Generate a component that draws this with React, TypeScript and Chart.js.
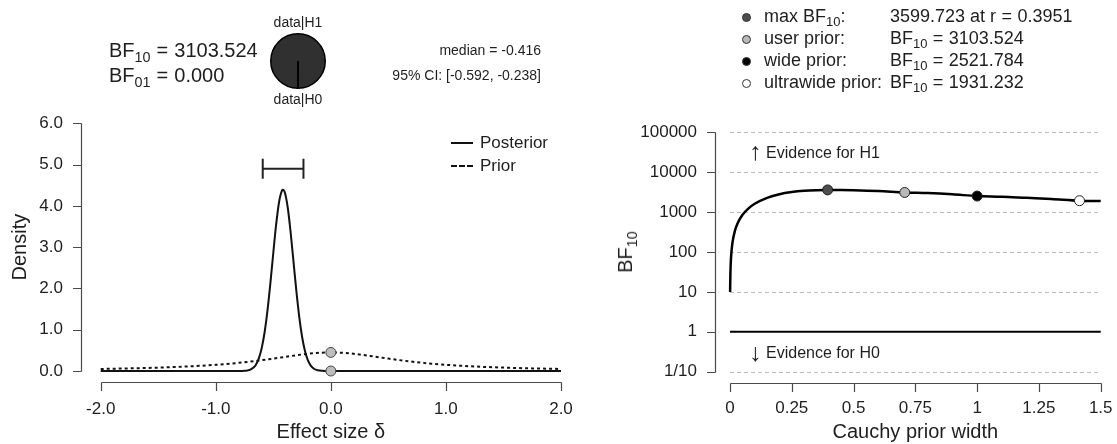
import React, { useEffect, useRef } from "react";
import { Chart, registerables } from "chart.js";

Chart.register(...registerables);

const FAMILY = "'Liberation Sans', Arial, Helvetica, sans-serif";
const TEXT = "#1e1e1e";
const AXIS = "#4a4a4a";
const W = 1117;

// ---------- Left panel: prior and posterior ----------
const effectTicks = [-2, -1, 0, 1, 2];
const densityTicks = [0, 1, 2, 3, 4, 5, 6];

const posteriorX = [-2, -1.5, -1, -0.9, -0.85, -0.8, -0.775, -0.75, -0.725, -0.7, -0.675, -0.65, -0.625, -0.6, -0.575, -0.55, -0.525, -0.5, -0.475, -0.45, -0.425, -0.416, -0.4, -0.375, -0.35, -0.325, -0.3, -0.275, -0.25, -0.225, -0.2, -0.175, -0.15, -0.125, -0.1, -0.075, -0.05, -0.025, 0, 0.5, 1, 1.5, 2];
const posteriorY = [0, 0, 0, 0, 0, 0.001, 0.002, 0.005, 0.014, 0.033, 0.076, 0.16, 0.312, 0.566, 0.951, 1.481, 2.14, 2.865, 3.556, 4.094, 4.369, 4.39, 4.322, 3.966, 3.373, 2.66, 1.945, 1.319, 0.829, 0.483, 0.261, 0.131, 0.061, 0.026, 0.01, 0.004, 0.001, 0, 0, 0, 0, 0, 0];

const priorX = [-2, -1.75, -1.5, -1.25, -1, -0.875, -0.75, -0.625, -0.5, -0.375, -0.25, -0.125, 0, 0.125, 0.25, 0.375, 0.5, 0.625, 0.75, 0.875, 1, 1.25, 1.5, 1.75, 2];
const priorY = [0.05, 0.063, 0.082, 0.109, 0.15, 0.178, 0.212, 0.253, 0.3, 0.351, 0.4, 0.437, 0.45, 0.437, 0.4, 0.351, 0.3, 0.253, 0.212, 0.178, 0.15, 0.109, 0.082, 0.063, 0.05];

const nullPointX = [0, 0];
const nullPointY = [0.45, 0.0];

const ciX = [-0.592, -0.238];
const ciY = [4.9, 4.9];

// ---------- Pie ----------
const pieLabels = ["data|H1", "data|H0"];
const pieValues = [3103.524, 1];

// ---------- Right panel: robustness check ----------
const widthTicks = [0, 0.25, 0.5, 0.75, 1, 1.25, 1.5];
const bfTicks = [0.1, 1, 10, 100, 1000, 10000, 100000];
const bfTickLabels = ["1/10", "1", "10", "100", "1000", "10000", "100000"];

const bfR = [0.0005, 0.001, 0.0025, 0.005, 0.01, 0.02, 0.03, 0.05, 0.075, 0.1, 0.15, 0.2, 0.25, 0.3, 0.35, 0.3951, 0.45, 0.5, 0.6, 0.7071, 0.8, 0.9, 1.0, 1.1, 1.2, 1.3, 1.4142, 1.5];
const bfVal = [10, 18, 44, 86, 171, 341, 511, 843, 1243, 1617, 2271, 2807, 3173, 3410, 3541, 3599.723, 3583, 3540, 3380, 3103.524, 2990, 2785, 2521.784, 2430, 2275, 2135, 1931.232, 1898];

const refLineX = [0, 1.5];
const refLineY = [1, 1];

const markerR = [0.3951, 0.7071, 1, 1.4142];
const markerBF = [3599.723, 3103.524, 2521.784, 1931.232];
const markerColors = ["#4d4d4d", "#b8b8b8", "#000000", "#ffffff"];

function pts(xs: number[], ys: number[]) {
  return xs.map((x, i) => ({ x, y: ys[i] }));
}

function offsetAxes(yGap: number, xGap: number, len: number) {
  return {
    id: "offsetAxes",
    afterDraw(chart: any) {
      const { ctx, chartArea } = chart;
      const xs = chart.scales.x;
      const ys = chart.scales.y;
      const ax = Math.round(chartArea.left - yGap) + 0.5;
      const ay = Math.round(chartArea.bottom + xGap) + 0.5;
      const yp = ys.ticks.map((t: any) => Math.round(ys.getPixelForValue(t.value)) + 0.5);
      const xp = xs.ticks.map((t: any) => Math.round(xs.getPixelForValue(t.value)) + 0.5);
      ctx.save();
      ctx.strokeStyle = AXIS;
      ctx.lineWidth = 1.2;
      ctx.beginPath();
      ctx.moveTo(ax, Math.min(...yp));
      ctx.lineTo(ax, Math.max(...yp));
      yp.forEach((p: number) => {
        ctx.moveTo(ax, p);
        ctx.lineTo(ax - len, p);
      });
      ctx.moveTo(Math.min(...xp), ay);
      ctx.lineTo(Math.max(...xp), ay);
      xp.forEach((p: number) => {
        ctx.moveTo(p, ay);
        ctx.lineTo(p, ay + len);
      });
      ctx.stroke();
      ctx.restore();
    },
  };
}

const dashedGrid = {
  id: "dashedGrid",
  beforeDatasetsDraw(chart: any) {
    const { ctx, chartArea } = chart;
    const ys = chart.scales.y;
    ctx.save();
    ctx.strokeStyle = "#bcbcbc";
    ctx.lineWidth = 1;
    ctx.setLineDash([4, 3]);
    bfTicks
      .filter((v) => v !== 1)
      .forEach((v) => {
        const p = Math.round(ys.getPixelForValue(v)) + 0.5;
        ctx.beginPath();
        ctx.moveTo(chartArea.left, p);
        ctx.lineTo(chartArea.right, p);
        ctx.stroke();
      });
    ctx.restore();
  },
};

const tickFont = { family: FAMILY, size: 17 };
const titleFont = { family: FAMILY, size: 20 };

const fitX = (h: number) => (s: any) => {
  s.height = h;
  s.paddingLeft = 0;
  s.paddingRight = 0;
  s.paddingTop = 0;
  s.paddingBottom = 0;
};
const fitY = (w: number) => (s: any) => {
  s.width = w;
  s.paddingLeft = 0;
  s.paddingRight = 0;
  s.paddingTop = 0;
  s.paddingBottom = 0;
};

function Txt(props: { x: number; y: number; size: number; align?: "left" | "right" | "center"; children: any }) {
  const { x, y, size, align = "left", children } = props;
  const style: React.CSSProperties = {
    position: "absolute",
    top: y - size * 0.6,
    fontSize: size,
    lineHeight: `${size * 1.2}px`,
    whiteSpace: "nowrap",
    color: TEXT,
  };
  if (align === "left") style.left = x;
  else if (align === "right") style.right = W - x;
  else {
    style.left = x;
    style.transform = "translateX(-50%)";
  }
  return <div style={style}>{children}</div>;
}

const Sub = ({ c }: { c: string }) => (
  <span style={{ fontSize: "0.72em", position: "relative", top: "0.32em" }}>{c}</span>
);

// plotmath-style equals sign with slightly wider spacing
const Eq = () => <span style={{ margin: "0 0.3em" }}>=</span>;

function Dot({ x, y, fill }: { x: number; y: number; fill: string }) {
  return (
    <div
      style={{
        position: "absolute",
        left: x - 4.5,
        top: y - 4.5,
        width: 7,
        height: 7,
        borderRadius: "50%",
        background: fill,
        border: "1px solid #333",
      }}
    />
  );
}

export default function App() {
  const leftRef = useRef<HTMLCanvasElement>(null);
  const rightRef = useRef<HTMLCanvasElement>(null);
  const pieRef = useRef<HTMLCanvasElement>(null);

  useEffect(() => {
    const left = new Chart(leftRef.current!, {
      type: "line",
      data: {
        datasets: [
          {
            data: pts(nullPointX, nullPointY),
            showLine: false,
            pointRadius: 5,
            pointBackgroundColor: "#bdbdbd",
            pointBorderColor: "#444",
            pointBorderWidth: 1,
            clip: false,
          } as any,
          {
            data: pts(ciX, ciY),
            borderColor: "#222",
            borderWidth: 2,
            pointStyle: "line",
            rotation: 90,
            pointRadius: 10,
            pointBorderColor: "#222",
            pointBorderWidth: 2,
            clip: false,
          },
          {
            data: pts(posteriorX, posteriorY),
            borderColor: "#111",
            borderWidth: 2,
            pointRadius: 0,
            cubicInterpolationMode: "monotone",
            clip: false,
          },
          {
            data: pts(priorX, priorY),
            borderColor: "#111",
            borderWidth: 2,
            borderDash: [3, 3],
            pointRadius: 0,
            cubicInterpolationMode: "monotone",
            clip: false,
          },
        ],
      },
      options: {
        responsive: false,
        animation: false,
        events: [],
        layout: { padding: { left: 0, top: 123.3, right: 19, bottom: 0 } },
        plugins: { legend: { display: false }, tooltip: { enabled: false } },
        scales: {
          x: {
            type: "linear",
            min: -2,
            max: 2,
            afterBuildTicks: (s: any) => {
              s.ticks = effectTicks.map((v) => ({ value: v }));
            },
            afterFit: fitX(73),
            ticks: { callback: (v: any) => Number(v).toFixed(1), padding: 28, font: tickFont, color: TEXT, maxRotation: 0 },
            grid: { display: false, drawTicks: false },
            border: { display: false },
            title: { display: true, text: "Effect size δ", font: titleFont, color: TEXT, padding: 0 },
          },
          y: {
            type: "linear",
            min: 0,
            max: 6,
            afterBuildTicks: (s: any) => {
              s.ticks = densityTicks.map((v) => ({ value: v }));
            },
            afterFit: fitY(100.7),
            ticks: { callback: (v: any) => Number(v).toFixed(1), padding: 37.7, font: tickFont, color: TEXT },
            grid: { display: false, drawTicks: false },
            border: { display: false },
            title: { display: true, text: "Density", font: titleFont, color: TEXT, padding: { top: 8, bottom: 0 } },
          },
        },
      },
      plugins: [offsetAxes(19.7, 11.3, 8.5)],
    });

    const right = new Chart(rightRef.current!, {
      type: "line",
      data: {
        datasets: [
          {
            data: pts(markerR, markerBF),
            showLine: false,
            pointRadius: 5,
            pointBackgroundColor: markerColors,
            pointBorderColor: "#222",
            pointBorderWidth: 1,
            clip: false,
          } as any,
          {
            data: pts(bfR, bfVal),
            borderColor: "#000",
            borderWidth: 2.5,
            pointRadius: 0,
            cubicInterpolationMode: "monotone",
            clip: false,
          },
          {
            data: pts(refLineX, refLineY),
            borderColor: "#000",
            borderWidth: 2,
            pointRadius: 0,
            clip: false,
          },
        ],
      },
      options: {
        responsive: false,
        animation: false,
        events: [],
        layout: { padding: { left: 0, top: 132.3, right: 16.3, bottom: 0 } },
        plugins: { legend: { display: false }, tooltip: { enabled: false } },
        scales: {
          x: {
            type: "linear",
            min: 0,
            max: 1.5,
            afterBuildTicks: (s: any) => {
              s.ticks = widthTicks.map((v) => ({ value: v }));
            },
            afterFit: fitX(72.3),
            ticks: { callback: (v: any) => String(v), padding: 26.7, font: tickFont, color: TEXT, maxRotation: 0 },
            grid: { display: false, drawTicks: false },
            border: { display: false },
            title: { display: true, text: "Cauchy prior width", font: titleFont, color: TEXT, padding: 0 },
          },
          y: {
            type: "logarithmic",
            min: 0.1,
            max: 100000,
            afterBuildTicks: (s: any) => {
              s.ticks = bfTicks.map((v) => ({ value: v }));
            },
            afterFit: fitY(150),
            ticks: {
              callback: (v: any) => bfTickLabels[bfTicks.indexOf(Number(v))] ?? "",
              padding: 33,
              font: tickFont,
              color: TEXT,
            },
            grid: { display: false, drawTicks: false },
            border: { display: false },
          },
        },
      },
      plugins: [dashedGrid, offsetAxes(15, 11, 8.5)],
    });

    const pie = new Chart(pieRef.current!, {
      type: "pie",
      data: {
        labels: pieLabels,
        datasets: [
          {
            data: pieValues,
            backgroundColor: ["#303030", "#ffffff"],
            borderColor: "#000",
            borderWidth: 1.5,
          },
        ],
      },
      options: {
        responsive: false,
        animation: false,
        events: [],
        rotation: 180,
        layout: { padding: 2 },
        plugins: { legend: { display: false }, tooltip: { enabled: false } },
      },
    });

    return () => {
      left.destroy();
      right.destroy();
      pie.destroy();
    };
  }, []);

  return (
    <div style={{ position: "absolute", left: 0, top: 0, width: W, height: 444, fontFamily: FAMILY, background: "#fff", overflow: "hidden" }}>
      <canvas ref={leftRef} width={580} height={444} style={{ position: "absolute", left: 0, top: 0 }} />
      <canvas ref={rightRef} width={537} height={444} style={{ position: "absolute", left: 580, top: 0 }} />
      <canvas ref={pieRef} width={60} height={60} style={{ position: "absolute", left: 268, top: 31 }} />

      {/* Left header */}
      <Txt x={109} y={50} size={20}>
        BF<Sub c="10" />
        <Eq />
        3103.524
      </Txt>
      <Txt x={109} y={75} size={20}>
        BF<Sub c="01" />
        <Eq />
        0.000
      </Txt>
      <Txt x={298} y={22} size={14} align="center">
        data|H1
      </Txt>
      <Txt x={298} y={99} size={14} align="center">
        data|H0
      </Txt>
      <Txt x={541} y={50} size={14} align="right">
        median = -0.416
      </Txt>
      <Txt x={541} y={75} size={14} align="right">
        95% CI: [-0.592, -0.238]
      </Txt>

      {/* Left legend */}
      <div style={{ position: "absolute", left: 451, top: 142, width: 22, borderTop: "2px solid #111" }} />
      <div style={{ position: "absolute", left: 451, top: 165, width: 22, borderTop: "2px dashed #111" }} />
      <Txt x={480} y={143} size={17}>
        Posterior
      </Txt>
      <Txt x={480} y={166} size={17}>
        Prior
      </Txt>

      {/* Right legend */}
      <Dot x={746} y={17} fill="#4d4d4d" />
      <Dot x={746} y={39} fill="#b8b8b8" />
      <Dot x={746} y={61} fill="#000000" />
      <Dot x={746} y={83} fill="#ffffff" />
      <Txt x={764} y={17} size={18}>
        max BF<Sub c="10" />:
      </Txt>
      <Txt x={764} y={39} size={18}>
        user prior:
      </Txt>
      <Txt x={764} y={61} size={18}>
        wide prior:
      </Txt>
      <Txt x={764} y={83} size={18}>
        ultrawide prior:
      </Txt>
      <Txt x={890} y={17} size={18}>
        3599.723 at r<Eq />0.3951
      </Txt>
      <Txt x={890} y={39} size={18}>
        BF<Sub c="10" />
        <Eq />
        3103.524
      </Txt>
      <Txt x={890} y={61} size={18}>
        BF<Sub c="10" />
        <Eq />
        2521.784
      </Txt>
      <Txt x={890} y={83} size={18}>
        BF<Sub c="10" />
        <Eq />
        1931.232
      </Txt>

      {/* Right panel annotations */}
      <Txt x={749} y={151} size={25}>
        ↑
      </Txt>
      <Txt x={766} y={153} size={16}>
        Evidence for H1
      </Txt>
      <Txt x={749} y={352} size={25}>
        ↓
      </Txt>
      <Txt x={766} y={353} size={16}>
        Evidence for H0
      </Txt>
      <div
        style={{
          position: "absolute",
          left: 626,
          top: 252,
          transform: "translate(-50%, -50%) rotate(-90deg)",
          fontSize: 20,
          lineHeight: "24px",
          whiteSpace: "nowrap",
          color: TEXT,
        }}
      >
        BF<Sub c="10" />
      </div>
    </div>
  );
}
